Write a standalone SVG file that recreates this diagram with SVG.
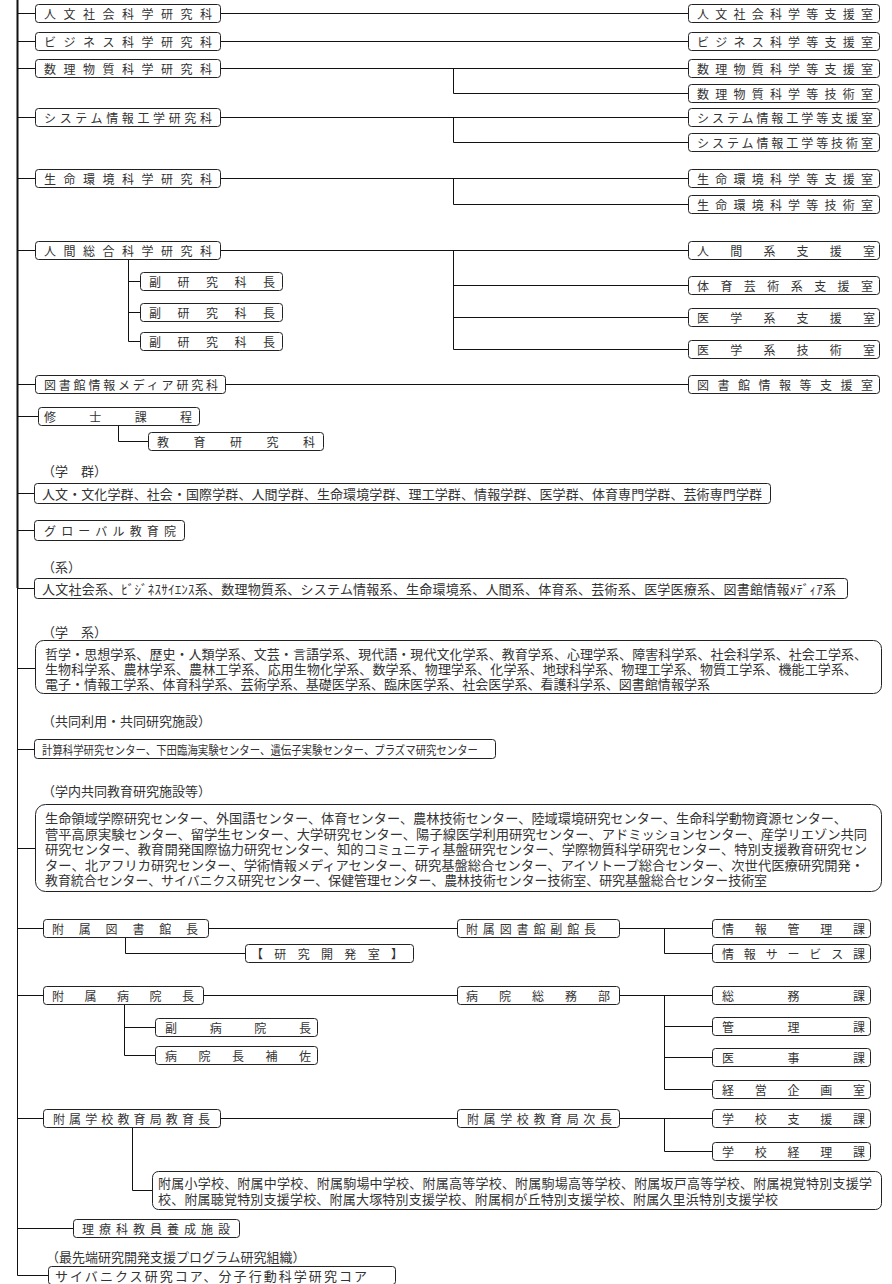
<svg xmlns="http://www.w3.org/2000/svg" width="892" height="1284" viewBox="0 0 892 1284">
<style>
.b{fill:#fff;stroke:#222;stroke-width:1}
.t{font-family:"Noto Sans CJK JP","Noto Sans CJK SC",sans-serif;font-size:12px;fill:#333;dominant-baseline:central}
.m{font-family:"Noto Sans CJK JP","Noto Sans CJK SC",sans-serif;font-size:13px;fill:#333;dominant-baseline:central}
.c{fill:none;stroke:#111;stroke-width:1}
</style>
<rect width="892" height="1284" fill="#fff"/>
<g id="connectors">
<path d="M17.5 0V588" stroke="#111" stroke-width="2" fill="none"/>
<path class="c" d="M17.5 588V1275.5H48.5"/>
<path class="c" d="M18 13.5H35.5M220.5 13.5H688.5M18 41.5H35.5M220.5 41.5H688.5M18 68.5H35.5M220.5 68.5H688.5M453.5 68.5V93.5H688.5M18 117.5H35.5M220.5 117.5H688.5M453.5 117.5V142.5H688.5M18 178.5H35.5M220.5 178.5H688.5M453.5 178.5V204.5H688.5M18 250.5H35.5M220.5 250.5H688.5M453.5 250.5V349.5H688.5M453.5 285.5H688.5M453.5 317.5H688.5M128.5 259.5V341.5H140.5M128.5 281.5H140.5M128.5 312.5H140.5M18 384.5H35.5M225.5 384.5H688.5M18 416.5H38.5M118.5 425.5V441.5H148.5"/>
<path class="c" d="M18 493.5H34.5M18 530.5H34.5M18 588.5H34.5M18 668.5H35.5M18 749.5H34.5M18 848.5H35.5"/>
<path class="c" d="M18 928.5H43.5M208.5 928.5H457.5M619.5 928.5H712.5M664.5 928.5V953.5H712.5M125.5 937.5V953.5H245.5"/>
<path class="c" d="M18 995.5H43.5M203.5 995.5H457.5M619.5 995.5H712.5M664.5 995.5V1089.5H712.5M664.5 1026.5H712.5M664.5 1057.5H712.5M124.5 1004.5V1055.5H155.5M124.5 1027.5H155.5"/>
<path class="c" d="M18 1118.5H43.5M220.5 1118.5H457.5M619.5 1118.5H712.5M664.5 1118.5V1151.5H712.5M132.5 1127.5V1190.5H152.5M18 1228.5H73.5"/>
</g>
<g id="n1"><rect class="b" x="35.5" y="4.5" width="185" height="18" rx="3"/><text class="t" x="44" y="13.5" textLength="168" lengthAdjust="spacing">人文社会科学研究科</text></g>
<g id="n2"><rect class="b" x="35.5" y="32.5" width="185" height="18" rx="3"/><text class="t" x="44" y="41.5" textLength="168" lengthAdjust="spacing">ビジネス科学研究科</text></g>
<g id="n3"><rect class="b" x="35.5" y="59.5" width="185" height="18" rx="3"/><text class="t" x="44" y="68.5" textLength="168" lengthAdjust="spacing">数理物質科学研究科</text></g>
<g id="n4"><rect class="b" x="35.5" y="108.5" width="185" height="18" rx="3"/><text class="t" x="44" y="117.5" textLength="168" lengthAdjust="spacing">システム情報工学研究科</text></g>
<g id="n5"><rect class="b" x="35.5" y="169.5" width="185" height="18" rx="3"/><text class="t" x="44" y="178.5" textLength="168" lengthAdjust="spacing">生命環境科学研究科</text></g>
<g id="n6"><rect class="b" x="35.5" y="241.5" width="185" height="18" rx="3"/><text class="t" x="44" y="250.5" textLength="168" lengthAdjust="spacing">人間総合科学研究科</text></g>
<g id="n6a"><rect class="b" x="140.5" y="272.5" width="142" height="18" rx="3"/><text class="t" x="149" y="281.5" textLength="126" lengthAdjust="spacing">副研究科長</text></g>
<g id="n6b"><rect class="b" x="140.5" y="303.5" width="142" height="18" rx="3"/><text class="t" x="149" y="312.5" textLength="126" lengthAdjust="spacing">副研究科長</text></g>
<g id="n6c"><rect class="b" x="140.5" y="332.5" width="142" height="18" rx="3"/><text class="t" x="149" y="341.5" textLength="126" lengthAdjust="spacing">副研究科長</text></g>
<g id="n7"><rect class="b" x="35.5" y="375.5" width="190" height="18" rx="3"/><text class="t" x="44" y="384.5" textLength="174" lengthAdjust="spacing">図書館情報メディア研究科</text></g>
<g id="n8"><rect class="b" x="38.5" y="407.5" width="161" height="18" rx="3"/><text class="t" x="44" y="416.5" textLength="148" lengthAdjust="spacing">修士課程</text></g>
<g id="n9"><rect class="b" x="148.5" y="432.5" width="175" height="18" rx="3"/><text class="t" x="157" y="441.5" textLength="158" lengthAdjust="spacing">教育研究科</text></g>
<g id="r1"><rect class="b" x="688.5" y="4.5" width="191" height="18" rx="3"/><text class="t" x="697" y="13.5" textLength="176" lengthAdjust="spacing">人文社会科学等支援室</text></g>
<g id="r2"><rect class="b" x="688.5" y="32.5" width="191" height="18" rx="3"/><text class="t" x="697" y="41.5" textLength="176" lengthAdjust="spacing">ビジネス科学等支援室</text></g>
<g id="r3"><rect class="b" x="688.5" y="59.5" width="191" height="18" rx="3"/><text class="t" x="697" y="68.5" textLength="176" lengthAdjust="spacing">数理物質科学等支援室</text></g>
<g id="r4"><rect class="b" x="688.5" y="84.5" width="191" height="18" rx="3"/><text class="t" x="697" y="93.5" textLength="176" lengthAdjust="spacing">数理物質科学等技術室</text></g>
<g id="r5"><rect class="b" x="688.5" y="108.5" width="191" height="18" rx="3"/><text class="t" x="697" y="117.5" textLength="176" lengthAdjust="spacing">システム情報工学等支援室</text></g>
<g id="r6"><rect class="b" x="688.5" y="133.5" width="191" height="18" rx="3"/><text class="t" x="697" y="142.5" textLength="176" lengthAdjust="spacing">システム情報工学等技術室</text></g>
<g id="r7"><rect class="b" x="688.5" y="169.5" width="191" height="18" rx="3"/><text class="t" x="697" y="178.5" textLength="176" lengthAdjust="spacing">生命環境科学等支援室</text></g>
<g id="r8"><rect class="b" x="688.5" y="195.5" width="191" height="18" rx="3"/><text class="t" x="697" y="204.5" textLength="176" lengthAdjust="spacing">生命環境科学等技術室</text></g>
<g id="r9"><rect class="b" x="688.5" y="241.5" width="191" height="18" rx="3"/><text class="t" x="697" y="250.5" textLength="178" lengthAdjust="spacing">人間系支援室</text></g>
<g id="r10"><rect class="b" x="688.5" y="276.5" width="191" height="18" rx="3"/><text class="t" x="697" y="285.5" textLength="176" lengthAdjust="spacing">体育芸術系支援室</text></g>
<g id="r11"><rect class="b" x="688.5" y="308.5" width="191" height="18" rx="3"/><text class="t" x="697" y="317.5" textLength="178" lengthAdjust="spacing">医学系支援室</text></g>
<g id="r12"><rect class="b" x="688.5" y="340.5" width="191" height="18" rx="3"/><text class="t" x="697" y="349.5" textLength="178" lengthAdjust="spacing">医学系技術室</text></g>
<g id="r13"><rect class="b" x="688.5" y="375.5" width="191" height="18" rx="3"/><text class="t" x="697" y="384.5" textLength="176" lengthAdjust="spacing">図書館情報等支援室</text></g>
<g id="gakugun">
<text class="m" x="42" y="470">（学　群）</text>
<rect class="b" x="34.5" y="483.5" width="736" height="20" rx="3"/>
<text class="m" x="42" y="493.5" textLength="720" lengthAdjust="spacing">人文・文化学群、社会・国際学群、人間学群、生命環境学群、理工学群、情報学群、医学群、体育専門学群、芸術専門学群</text>
</g>
<g id="global"><rect class="b" x="34.5" y="520.5" width="150" height="20" rx="3"/><text class="t" x="44" y="530.5" textLength="132" lengthAdjust="spacing">グローバル教育院</text></g>
<g id="kei">
<text class="m" x="42" y="566">（系）</text>
<rect class="b" x="34.5" y="578.5" width="813" height="20" rx="3"/>
<text class="m" x="42" y="588.5" textLength="794" lengthAdjust="spacing">人文社会系、ﾋﾞｼﾞﾈｽｻｲｴﾝｽ系、数理物質系、システム情報系、生命環境系、人間系、体育系、芸術系、医学医療系、図書館情報ﾒﾃﾞｨｱ系</text>
</g>
<g id="gakkei">
<text class="m" x="42" y="631">（学　系）</text>
<rect class="b" x="35.5" y="640.5" width="846" height="53" rx="8"/>
<text class="m" x="45" y="653.5" textLength="822" lengthAdjust="spacing">哲学・思想学系、歴史・人類学系、文芸・言語学系、現代語・現代文化学系、教育学系、心理学系、障害科学系、社会科学系、社会工学系、</text>
<text class="m" x="45" y="668.5" textLength="812" lengthAdjust="spacing">生物科学系、農林学系、農林工学系、応用生物化学系、数学系、物理学系、化学系、地球科学系、物理工学系、物質工学系、機能工学系、</text>
<text class="m" x="45" y="683.5" textLength="665" lengthAdjust="spacing">電子・情報工学系、体育科学系、芸術学系、基礎医学系、臨床医学系、社会医学系、看護科学系、図書館情報学系</text>
</g>
<g id="kyodo">
<text class="m" x="42" y="720">（共同利用・共同研究施設）</text>
<rect class="b" x="34.5" y="739.5" width="461" height="19" rx="3"/>
<text class="t" x="42" y="749.5" textLength="436" lengthAdjust="spacingAndGlyphs">計算科学研究センター、下田臨海実験センター、遺伝子実験センター、プラズマ研究センター</text>
</g>
<g id="gakunai">
<text class="m" x="42" y="790">（学内共同教育研究施設等）</text>
<rect class="b" x="35.5" y="804.5" width="846" height="87" rx="10"/>
<text class="m" x="45" y="817.5" textLength="802" lengthAdjust="spacingAndGlyphs">生命領域学際研究センター、外国語センター、体育センター、農林技術センター、陸域環境研究センター、生命科学動物資源センター、</text>
<text class="m" x="45" y="833" textLength="822" lengthAdjust="spacingAndGlyphs">菅平高原実験センター、留学生センター、大学研究センター、陽子線医学利用研究センター、アドミッションセンター、産学リエゾン共同</text>
<text class="m" x="45" y="848.5" textLength="822" lengthAdjust="spacingAndGlyphs">研究センター、教育開発国際協力研究センター、知的コミュニティ基盤研究センター、学際物質科学研究センター、特別支援教育研究セン</text>
<text class="m" x="45" y="864" textLength="819" lengthAdjust="spacingAndGlyphs">ター、北アフリカ研究センター、学術情報メディアセンター、研究基盤総合センター、アイソトープ総合センター、次世代医療研究開発・</text>
<text class="m" x="45" y="879.5" textLength="722" lengthAdjust="spacingAndGlyphs">教育統合センター、サイバニクス研究センター、保健管理センター、農林技術センター技術室、研究基盤総合センター技術室</text>
</g>
<g id="lib1"><rect class="b" x="43.5" y="919.5" width="165" height="18" rx="3"/><text class="t" x="52" y="928.5" textLength="146" lengthAdjust="spacing">附属図書館長</text></g>
<g id="lib2"><rect class="b" x="457.5" y="919.5" width="162" height="18" rx="3"/><text class="t" x="466" y="928.5" textLength="130" lengthAdjust="spacing">附属図書館副館長</text></g>
<g id="lib3"><rect class="b" x="712.5" y="919.5" width="158" height="18" rx="3"/><text class="t" x="722" y="928.5" textLength="143" lengthAdjust="spacing">情報管理課</text></g>
<g id="lib4"><rect class="b" x="712.5" y="944.5" width="158" height="18" rx="3"/><text class="t" x="722" y="953.5" textLength="143" lengthAdjust="spacing">情報サービス課</text></g>
<g id="lib5"><rect class="b" x="245.5" y="944.5" width="168" height="18" rx="3"/><text class="t" x="251" y="953.5" textLength="152" lengthAdjust="spacing">【研究開発室】</text></g>
<g id="hos1"><rect class="b" x="43.5" y="986.5" width="160" height="18" rx="3"/><text class="t" x="52" y="995.5" textLength="142" lengthAdjust="spacing">附属病院長</text></g>
<g id="hos2"><rect class="b" x="457.5" y="986.5" width="162" height="18" rx="3"/><text class="t" x="466" y="995.5" textLength="144" lengthAdjust="spacing">病院総務部</text></g>
<g id="hos3"><rect class="b" x="712.5" y="986.5" width="158" height="18" rx="3"/><text class="t" x="722" y="995.5" textLength="143" lengthAdjust="spacing">総務課</text></g>
<g id="hos4"><rect class="b" x="712.5" y="1017.5" width="158" height="18" rx="3"/><text class="t" x="722" y="1026.5" textLength="143" lengthAdjust="spacing">管理課</text></g>
<g id="hos5"><rect class="b" x="712.5" y="1048.5" width="158" height="18" rx="3"/><text class="t" x="722" y="1057.5" textLength="143" lengthAdjust="spacing">医事課</text></g>
<g id="hos6"><rect class="b" x="712.5" y="1080.5" width="158" height="18" rx="3"/><text class="t" x="722" y="1089.5" textLength="143" lengthAdjust="spacing">経営企画室</text></g>
<g id="hos7"><rect class="b" x="155.5" y="1018.5" width="162" height="18" rx="3"/><text class="t" x="165" y="1027.5" textLength="146" lengthAdjust="spacing">副病院長</text></g>
<g id="hos8"><rect class="b" x="155.5" y="1046.5" width="162" height="18" rx="3"/><text class="t" x="165" y="1055.5" textLength="146" lengthAdjust="spacing">病院長補佐</text></g>
<g id="sch1"><rect class="b" x="43.5" y="1109.5" width="177" height="18" rx="3"/><text class="t" x="53" y="1118.5" textLength="157" lengthAdjust="spacing">附属学校教育局教育長</text></g>
<g id="sch2"><rect class="b" x="457.5" y="1109.5" width="162" height="18" rx="3"/><text class="t" x="467" y="1118.5" textLength="145" lengthAdjust="spacing">附属学校教育局次長</text></g>
<g id="sch3"><rect class="b" x="712.5" y="1109.5" width="158" height="18" rx="3"/><text class="t" x="722" y="1118.5" textLength="143" lengthAdjust="spacing">学校支援課</text></g>
<g id="sch4"><rect class="b" x="712.5" y="1142.5" width="158" height="18" rx="3"/><text class="t" x="722" y="1151.5" textLength="143" lengthAdjust="spacing">学校経理課</text></g>
<g id="sch5">
<rect class="b" x="152.5" y="1171.5" width="729" height="38" rx="6"/>
<text class="m" x="158" y="1182.5" textLength="714" lengthAdjust="spacing">附属小学校、附属中学校、附属駒場中学校、附属高等学校、附属駒場高等学校、附属坂戸高等学校、附属視覚特別支援学</text>
<text class="m" x="158" y="1198.5" textLength="620" lengthAdjust="spacing">校、附属聴覚特別支援学校、附属大塚特別支援学校、附属桐が丘特別支援学校、附属久里浜特別支援学校</text>
</g>
<g id="riryo"><rect class="b" x="73.5" y="1219.5" width="166" height="18" rx="3"/><text class="t" x="82" y="1228.5" textLength="148" lengthAdjust="spacing">理療科教員養成施設</text></g>
<g id="saisentan">
<text class="m" x="46" y="1256">（最先端研究開発支援プログラム研究組織）</text>
<rect class="b" x="48.5" y="1266.5" width="347" height="18" rx="3"/>
<text class="m" x="55" y="1275.5" textLength="312" lengthAdjust="spacing">サイバニクス研究コア、分子行動科学研究コア</text>
</g>
</svg>
